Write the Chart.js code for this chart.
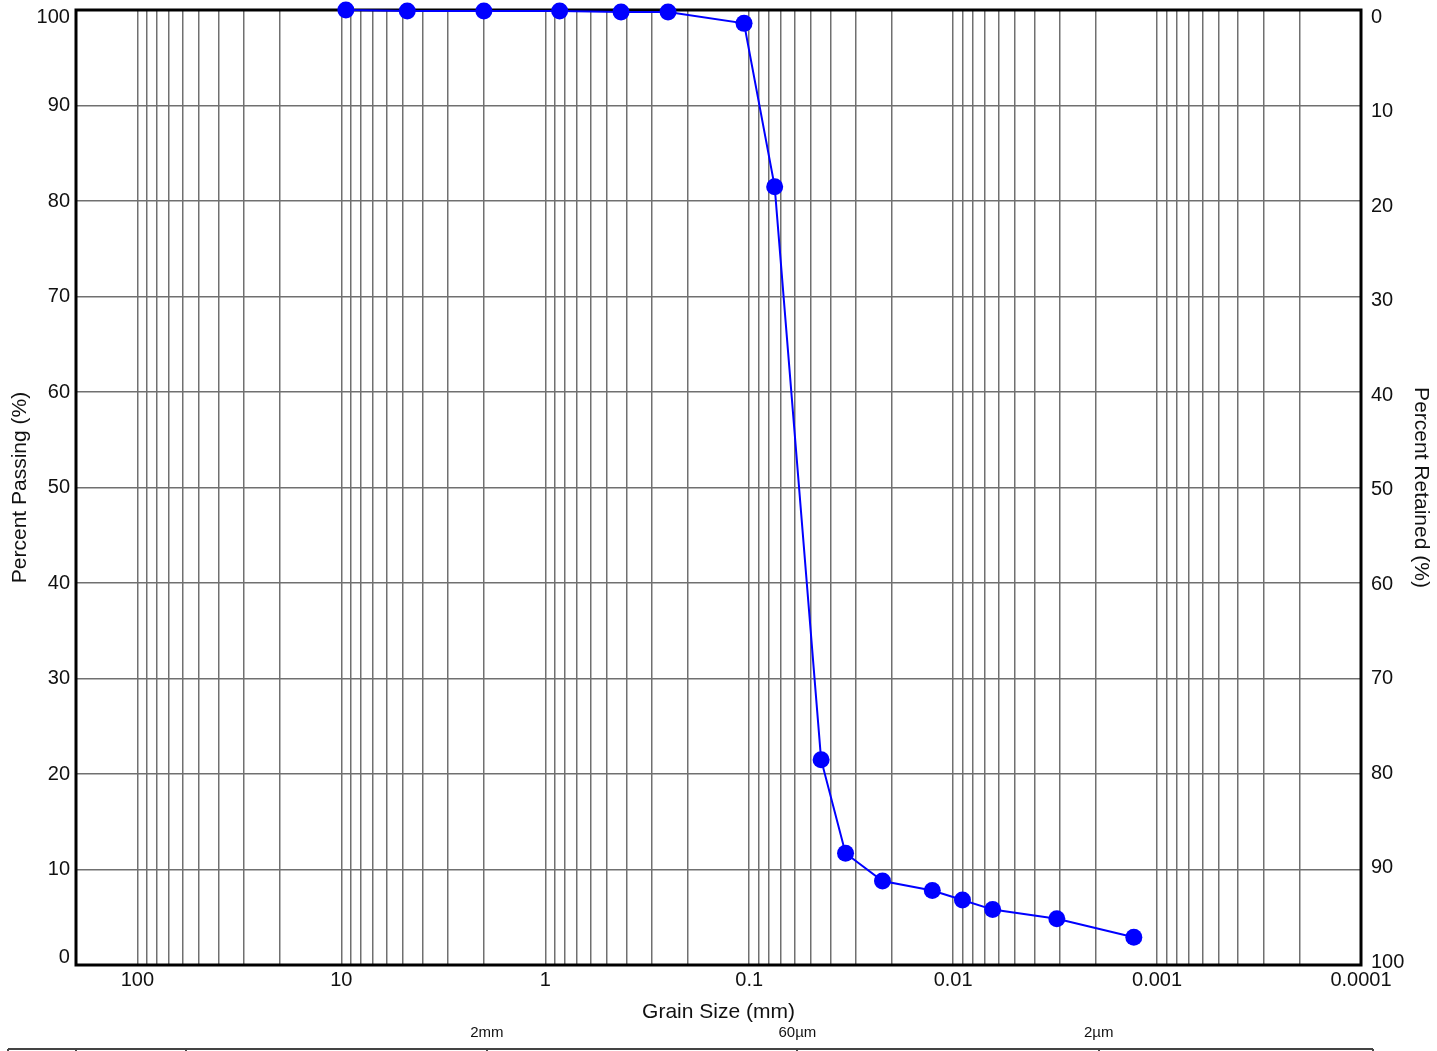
<!DOCTYPE html>
<html>
<head>
<meta charset="utf-8">
<script src="https://cdn.jsdelivr.net/npm/chart.js@4"></script>
<style>
html, body { margin: 0; padding: 0; background: #fff; }
#wrap { width: 1437px; height: 1051px; }
</style>
</head>
<body>
<div id="wrap"><canvas id="gradingChart" width="1437" height="1051"></canvas></div>
<script>
// Grain size (mm) and percent passing for each sieve / hydrometer reading
const grainSize = [9.5, 4.75, 2.0, 0.85, 0.425, 0.25, 0.106, 0.075, 0.0444, 0.0337, 0.0222, 0.01265, 0.0090, 0.0064, 0.0031, 0.0013];
const percentPassing = [100, 99.9, 99.9, 99.9, 99.8, 99.8, 98.6, 81.5, 21.5, 11.7, 8.8, 7.8, 6.8, 5.8, 4.85, 2.9];

// Decade labels on the grain size axis
const decadeValues = [100, 10, 1, 0.1, 0.01, 0.001, 0.0001];
const decadeLabels = ['100', '10', '1', '0.1', '0.01', '0.001', '0.0001'];

// Percent ticks (both y axes); the end labels on the left sit inside the frame
const percentTicks = [0, 10, 20, 30, 40, 50, 60, 70, 80, 90, 100];
const percentEndTicks = [0, 100];

// Boundaries of the classification strip under the chart
const boundaryValues = [60, 2, 0.06, 0.002];
const boundaryLabels = ['', '2mm', '60µm', '2µm'];

const FONT = "'Liberation Sans', Arial, sans-serif";
const GRID = '#707070';

// every 1..9 x 10^n line between 0.0001 and 100
function logGridValues() {
    const vals = [];
    for (let e = 2; e >= -4; e--) {
        for (let m = 9; m >= 1; m--) {
            const v = Number((m * Math.pow(10, e)).toPrecision(6));
            if (v <= 100 && v >= 0.0001) vals.push(v);
        }
    }
    return vals;
}

function decadeLabel(value) {
    for (let i = 0; i < decadeValues.length; i++) {
        if (Math.abs(value - decadeValues[i]) / decadeValues[i] < 1e-6) return decadeLabels[i];
    }
    return '';
}

// black frame round the plot, under the points
const framePlugin = {
    id: 'frame',
    beforeDatasetsDraw(chart) {
        const { ctx, chartArea: a } = chart;
        ctx.save();
        ctx.strokeStyle = '#000';
        ctx.lineWidth = 3;
        ctx.strokeRect(a.left, a.top, a.right - a.left, a.bottom - a.top);
        ctx.restore();
    }
};

// classification strip along the bottom edge
const stripPlugin = {
    id: 'strip',
    afterDraw(chart) {
        const { ctx, chartArea: a } = chart;
        const xs = chart.scales.x;
        const y = chart.height - 2;
        const x0 = a.left - 68, x1 = a.right + 12;
        ctx.save();
        ctx.strokeStyle = '#444';
        ctx.lineWidth = 2;
        ctx.beginPath();
        ctx.moveTo(x0, y);
        ctx.lineTo(x1, y);
        const marks = [x0, a.left, x1].concat(boundaryValues.map(v => xs.getPixelForValue(v) + 3));
        marks.forEach(px => {
            ctx.moveTo(Math.round(px), y);
            ctx.lineTo(Math.round(px), y + 6);
        });
        ctx.stroke();
        ctx.fillStyle = '#111';
        ctx.font = '15px ' + FONT;
        ctx.textAlign = 'center';
        ctx.textBaseline = 'middle';
        boundaryValues.forEach((v, i) => {
            if (boundaryLabels[i]) ctx.fillText(boundaryLabels[i], xs.getPixelForValue(v) + 3, y - 16);
        });
        ctx.restore();
    }
};

// keep the label overhang from pushing the plot area inwards
function noVerticalPad(scale) {
    scale.paddingTop = 0;
    scale.paddingBottom = 0;
}

const tickFont = { family: FONT, size: 20 };
const titleFont = { family: FONT, size: 21 };

const ctx = document.getElementById('gradingChart').getContext('2d');
const gradingChart = new Chart(ctx, {
    type: 'scatter',
    data: {
        datasets: [{
            label: 'Percent Passing',
            data: grainSize.map((g, i) => ({ x: g, y: percentPassing[i] })),
            showLine: true,
            borderColor: '#0000ff',
            backgroundColor: '#0000ff',
            borderWidth: 2,
            pointRadius: 8.5,
            pointBorderWidth: 0,
            pointHoverRadius: 8.5,
            tension: 0,
            clip: false
        }]
    },
    options: {
        responsive: false,
        animation: false,
        layout: { padding: { top: 10, bottom: 26, left: 0, right: 0 } },
        plugins: {
            legend: { display: false },
            tooltip: { enabled: false }
        },
        scales: {
            x: {
                type: 'logarithmic',
                position: 'bottom',
                reverse: true,
                min: 0.0001,
                max: 200,
                afterBuildTicks: scale => {
                    scale.ticks = logGridValues().map(v => ({ value: v }));
                },
                afterFit: scale => {
                    scale.height = 60;
                    scale.paddingLeft = 0;
                    scale.paddingRight = 0;
                },
                grid: { color: GRID, lineWidth: 1.5, drawTicks: false },
                border: { display: false },
                ticks: {
                    autoSkip: false,
                    maxRotation: 0,
                    padding: 3,
                    color: '#111',
                    font: tickFont,
                    callback: value => decadeLabel(value)
                },
                title: {
                    display: true,
                    text: 'Grain Size (mm)',
                    color: '#111',
                    font: titleFont,
                    padding: { top: 0, bottom: 0 }
                }
            },
            y: {
                position: 'left',
                weight: 1,
                min: 0,
                max: 100,
                afterBuildTicks: scale => {
                    scale.ticks = percentTicks.map(v => ({ value: v }));
                },
                afterFit: scale => {
                    scale.width = 76;
                    noVerticalPad(scale);
                },
                grid: { color: GRID, lineWidth: 1.5, drawTicks: false },
                border: { display: false },
                ticks: {
                    padding: 6,
                    color: '#111',
                    font: tickFont,
                    callback: value => (percentEndTicks.includes(value) ? '' : String(value))
                },
                title: {
                    display: true,
                    text: 'Percent Passing (%)',
                    color: '#111',
                    font: titleFont,
                    padding: { top: 8, bottom: 0 }
                }
            },
            // zero-width axis that only prints the 0 and 100 labels, pulled inside the frame
            yEnds: {
                position: 'left',
                weight: 0,
                min: -0.85,
                max: 100.85,
                afterBuildTicks: scale => {
                    scale.ticks = percentEndTicks.map(v => ({ value: v }));
                },
                afterFit: scale => {
                    scale.width = 0;
                    noVerticalPad(scale);
                },
                grid: { display: false, drawTicks: false },
                border: { display: false },
                ticks: {
                    mirror: true,
                    crossAlign: 'far',
                    padding: -39.4,
                    color: '#111',
                    font: tickFont
                }
            },
            y2: {
                position: 'right',
                reverse: true,
                min: -0.75,
                max: 100.3,
                afterBuildTicks: scale => {
                    scale.ticks = percentTicks.map(v => ({ value: v }));
                },
                afterFit: scale => {
                    scale.width = 76;
                    noVerticalPad(scale);
                },
                grid: { display: false, drawTicks: false },
                border: { display: false },
                ticks: {
                    padding: 10,
                    color: '#111',
                    font: tickFont
                },
                title: {
                    display: true,
                    text: 'Percent Retained (%)',
                    color: '#111',
                    font: titleFont,
                    padding: { top: 4, bottom: 0 }
                }
            }
        }
    },
    plugins: [framePlugin, stripPlugin]
});
</script>
</body>
</html>
